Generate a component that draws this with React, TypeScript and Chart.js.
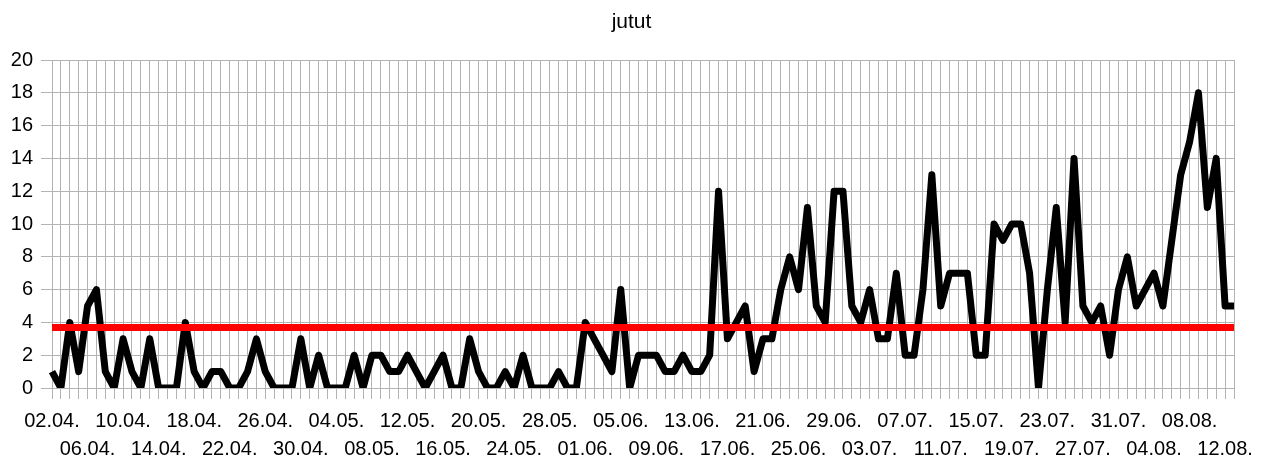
import React, { useEffect, useRef } from 'react';
import { Chart, registerables } from 'chart.js';

Chart.register(...registerables);

const TITLE = 'jutut';

const dates = [
  '02.04.', '03.04.', '04.04.', '05.04.', '06.04.', '07.04.', '08.04.', '09.04.', '10.04.', '11.04.',
  '12.04.', '13.04.', '14.04.', '15.04.', '16.04.', '17.04.', '18.04.', '19.04.', '20.04.', '21.04.',
  '22.04.', '23.04.', '24.04.', '25.04.', '26.04.', '27.04.', '28.04.', '29.04.', '30.04.',
  '01.05.', '02.05.', '03.05.', '04.05.', '05.05.', '06.05.', '07.05.', '08.05.', '09.05.', '10.05.',
  '11.05.', '12.05.', '13.05.', '14.05.', '15.05.', '16.05.', '17.05.', '18.05.', '19.05.', '20.05.',
  '21.05.', '22.05.', '23.05.', '24.05.', '25.05.', '26.05.', '27.05.', '28.05.', '29.05.', '30.05.', '31.05.',
  '01.06.', '02.06.', '03.06.', '04.06.', '05.06.', '06.06.', '07.06.', '08.06.', '09.06.', '10.06.',
  '11.06.', '12.06.', '13.06.', '14.06.', '15.06.', '16.06.', '17.06.', '18.06.', '19.06.', '20.06.',
  '21.06.', '22.06.', '23.06.', '24.06.', '25.06.', '26.06.', '27.06.', '28.06.', '29.06.', '30.06.',
  '01.07.', '02.07.', '03.07.', '04.07.', '05.07.', '06.07.', '07.07.', '08.07.', '09.07.', '10.07.',
  '11.07.', '12.07.', '13.07.', '14.07.', '15.07.', '16.07.', '17.07.', '18.07.', '19.07.', '20.07.',
  '21.07.', '22.07.', '23.07.', '24.07.', '25.07.', '26.07.', '27.07.', '28.07.', '29.07.', '30.07.', '31.07.',
  '01.08.', '02.08.', '03.08.', '04.08.', '05.08.', '06.08.', '07.08.', '08.08.', '09.08.', '10.08.',
  '11.08.', '12.08.', '13.08.',
];

const jutut = [
  1, 0, 4, 1, 5, 6, 1, 0, 3, 1,
  0, 3, 0, 0, 0, 4, 1, 0, 1, 1,
  0, 0, 1, 3, 1, 0, 0, 0, 3, 0,
  2, 0, 0, 0, 2, 0, 2, 2, 1, 1,
  2, 1, 0, 1, 2, 0, 0, 3, 1, 0,
  0, 1, 0, 2, 0, 0, 0, 1, 0, 0,
  4, 3, 2, 1, 6, 0, 2, 2, 2, 1,
  1, 2, 1, 1, 2, 12, 3, 4, 5, 1,
  3, 3, 6, 8, 6, 11, 5, 4, 12, 12,
  5, 4, 6, 3, 3, 7, 2, 2, 6, 13,
  5, 7, 7, 7, 2, 2, 10, 9, 10, 10,
  7, 0, 6, 11, 4, 14, 5, 4, 5, 2,
  6, 8, 5, 6, 7, 5, 9, 13, 15, 18,
  11, 14, 5, 5,
];

const AVERAGE = 3.69;

const Y_MIN = 0;
const Y_MAX = 20;
const Y_STEP = 2;
const LABEL_EVERY = 4;

const FONT = "'Liberation Sans', Arial, sans-serif";
const GRID = '#b3b3b3';

export default function App() {
  const ref = useRef<HTMLCanvasElement | null>(null);

  useEffect(() => {
    if (!ref.current) return;
    const chart = new Chart(ref.current, {
      type: 'line',
      data: {
        labels: dates,
        datasets: [
          {
            label: 'keskiarvo',
            data: [
              { x: dates[0], y: AVERAGE },
              { x: dates[dates.length - 1], y: AVERAGE },
            ] as any,
            borderColor: '#ff0000',
            borderWidth: 7,
            pointRadius: 0,
            tension: 0,
            order: 0,
          },
          {
            label: TITLE,
            data: jutut,
            borderColor: '#000000',
            borderWidth: 7,
            pointRadius: 0,
            tension: 0,
            borderJoinStyle: 'round',
            borderCapStyle: 'butt',
            order: 1,
          },
        ],
      },
      options: {
        responsive: false,
        animation: false,
        devicePixelRatio: 1,
        layout: { padding: 0 },
        plugins: {
          legend: { display: false },
          tooltip: { enabled: false },
          title: {
            display: true,
            text: TITLE,
            color: '#000',
            font: { family: FONT, size: 21, weight: 'normal', lineHeight: 1.2 },
            padding: { top: 10, bottom: 24.8 },
          },
        },
        scales: {
          x: {
            type: 'category',
            offset: false,
            grid: { color: GRID, lineWidth: 1, tickLength: 11, drawTicks: true },
            border: { color: GRID },
            ticks: {
              autoSkip: false,
              maxRotation: 0,
              minRotation: 0,
              padding: 8,
              color: '#000',
              font: { family: FONT, size: 20, lineHeight: 1.4 },
              callback: (_v: any, i: number) => {
                if (i % LABEL_EVERY !== 0) return '';
                return (i / LABEL_EVERY) % 2 === 0 ? dates[i] : ['', dates[i]];
              },
            },
            afterFit: (s: any) => {
              s.height = 73;
            },
          },
          y: {
            min: Y_MIN,
            max: Y_MAX,
            grid: { color: GRID, lineWidth: 1, tickLength: 11, drawTicks: true },
            border: { color: GRID },
            ticks: {
              stepSize: Y_STEP,
              padding: 8,
              color: '#000',
              font: { family: FONT, size: 20 },
            },
            afterFit: (s: any) => {
              s.width = 52;
            },
          },
          yRight: {
            type: 'linear',
            position: 'right',
            display: true,
            min: Y_MIN,
            max: Y_MAX,
            grid: { display: false, drawTicks: false },
            border: { display: false },
            ticks: { display: false },
            afterFit: (s: any) => {
              s.width = 29;
            },
          },
        },
      },
    });
    return () => chart.destroy();
  }, []);

  return (
    <div style={{ position: 'absolute', left: 0, top: 0, width: 1263, height: 461, background: '#fff' }}>
      <canvas ref={ref} width={1263} height={461} style={{ display: 'block' }} />
    </div>
  );
}
